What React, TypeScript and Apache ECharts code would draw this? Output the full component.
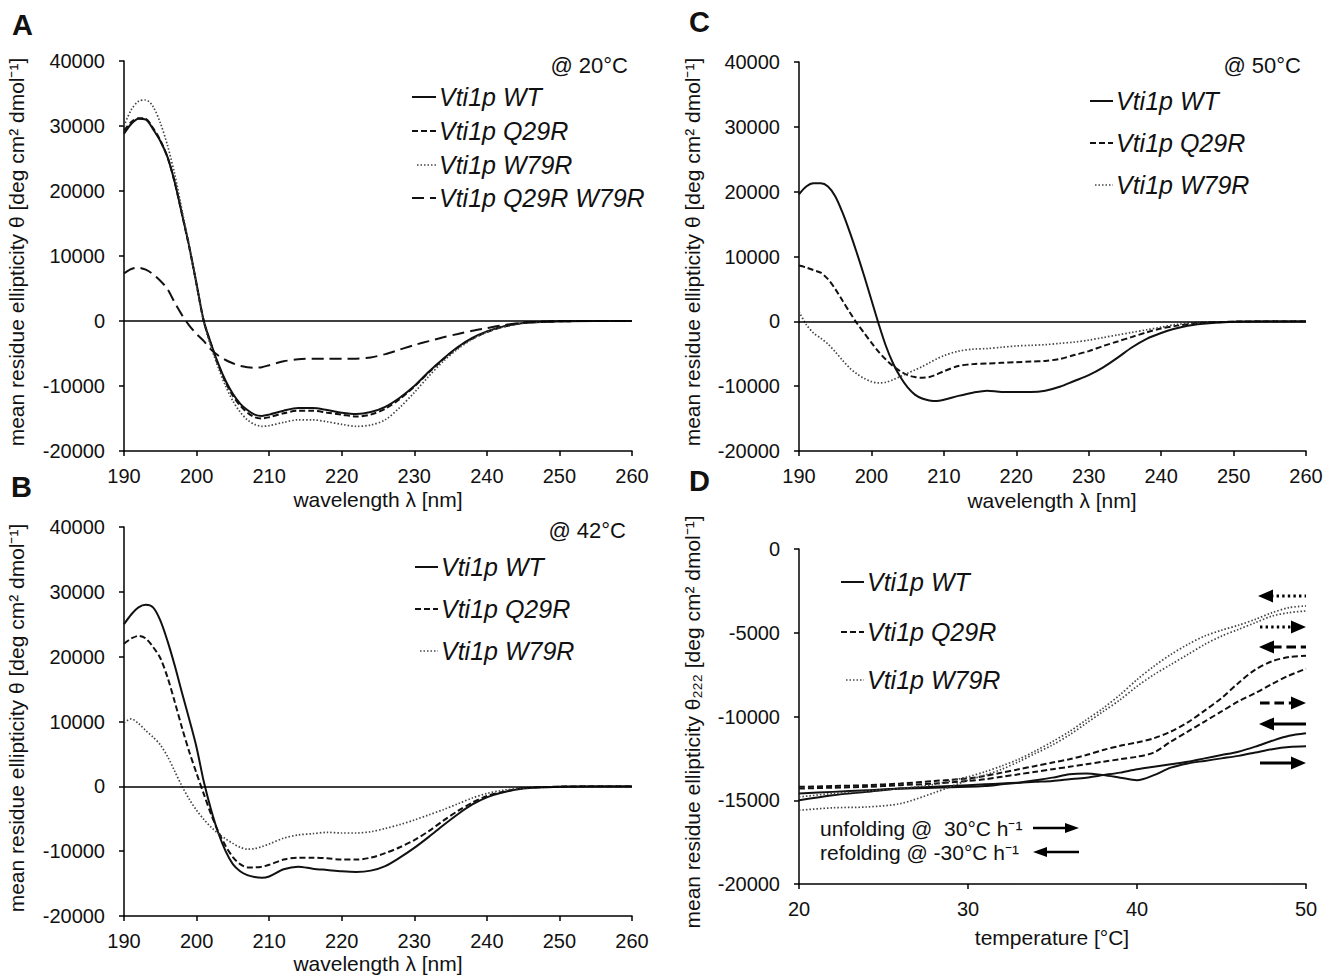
import React, { useEffect, useRef } from 'react';
import * as echarts from 'echarts';

const FONT = '"Liberation Sans", Arial, Helvetica, sans-serif';

// wavelength grid (nm) shared by panels A, B, C
const WL = [190,191,192,193,194,195,196,197,198,199,200,201,202,203,204,205,206,207,208,209,210,
  212,214,216,218,220,222,224,226,228,230,232,234,236,238,240,242,245,250,255,260];

// Panel A @ 20°C
const A_WT = [28800,30300,31100,31000,29500,27700,25200,21300,16400,11400,5700,0,-3500,-6600,-9200,-11200,-12700,-13700,-14400,-14600,-14400,
  -13800,-13400,-13400,-13700,-14100,-14300,-14000,-13200,-11800,-10000,-7800,-5800,-4000,-2600,-1600,-900,-300,-50,0,0];
const A_Q29R = [29300,30600,31200,31100,29700,27800,25200,21300,16400,11300,5600,-100,-3600,-6800,-9400,-11500,-13000,-14100,-14800,-15000,-14800,
  -14200,-13800,-13800,-14100,-14400,-14700,-14400,-13500,-12000,-10100,-7900,-5900,-4100,-2700,-1700,-950,-300,-50,0,0];
const A_W79R = [30000,32500,33800,34000,33000,30500,27000,22500,17000,11500,5600,-200,-4000,-7200,-10000,-12300,-14000,-15200,-15900,-16200,-16100,
  -15600,-15200,-15200,-15500,-15900,-16200,-16000,-15200,-13300,-11000,-8500,-6200,-4300,-2800,-1700,-1000,-350,-50,0,0];
const A_DM = [7300,8000,8200,7900,7200,6200,4900,2800,900,-700,-2000,-3100,-4400,-5300,-6000,-6500,-6900,-7100,-7200,-7100,-6800,
  -6200,-5900,-5800,-5800,-5800,-5800,-5600,-5100,-4400,-3700,-3100,-2500,-2000,-1500,-1100,-700,-250,-50,0,0];

// Panel B @ 42°C
const B_WT = [25000,26500,27600,28000,27600,25600,22400,18600,14400,10300,6000,700,-3600,-7200,-10000,-12000,-13100,-13700,-14000,-14100,-13900,
  -12800,-12400,-12700,-12900,-13100,-13200,-13000,-12300,-11000,-9500,-7800,-6000,-4300,-2800,-1700,-1000,-350,-50,0,0];
const B_Q29R = [22000,22800,23200,22800,21500,19800,16800,13000,9000,5300,2000,-1200,-4300,-7000,-9200,-10900,-12000,-12500,-12500,-12400,-12100,
  -11300,-11000,-11000,-11100,-11300,-11300,-11000,-10300,-9400,-8300,-6900,-5300,-3800,-2500,-1500,-900,-300,-50,0,0];
const B_W79R = [9800,10400,9700,8600,7600,6400,4600,2300,0,-2000,-3700,-5100,-6300,-7300,-8100,-8800,-9400,-9700,-9600,-9300,-8900,
  -8000,-7500,-7300,-7100,-7200,-7200,-7000,-6500,-5900,-5200,-4400,-3600,-2700,-1800,-1100,-650,-250,-50,0,0];

// Panel C @ 50°C
const C_WT = [19600,20800,21300,21300,20800,19300,16800,13800,10500,7000,3300,-400,-3800,-6500,-8600,-10200,-11300,-11900,-12200,-12300,-12100,
  -11500,-11000,-10700,-10900,-10900,-10900,-10700,-10100,-9200,-8300,-7100,-5600,-4000,-2700,-1800,-1100,-450,-50,0,0];
const C_Q29R = [8600,8300,7900,7500,6500,5000,3200,1400,-300,-1800,-3300,-4700,-5900,-6900,-7700,-8300,-8600,-8700,-8600,-8200,-7700,
  -6900,-6600,-6500,-6400,-6300,-6200,-6100,-5800,-5200,-4600,-3800,-3100,-2400,-1700,-1100,-700,-300,-50,0,0];
const C_W79R = [1500,-500,-1800,-2600,-3500,-4700,-6000,-7200,-8100,-8800,-9300,-9500,-9400,-9000,-8500,-8000,-7500,-7000,-6400,-5800,-5300,
  -4600,-4300,-4200,-4000,-3800,-3700,-3600,-3400,-3200,-2900,-2500,-2100,-1700,-1300,-900,-500,-200,-50,0,0];

// Panel D: thermal transitions at 222 nm
const TEMP = [20,22,24,26,28,30,31,32,33,34,35,36,37,38,39,40,41,42,43,44,45,46,47,48,49,50];
const D_WT_REF = [-15000,-14700,-14500,-14300,-14200,-14100,-14050,-14000,-13950,-13900,-13850,-13750,-13650,-13500,-13350,-13150,-13000,-12850,-12700,-12500,-12300,-12100,-11800,-11450,-11150,-11000];
const D_WT_UNF = [-14600,-14500,-14400,-14300,-14250,-14200,-14150,-14050,-13950,-13800,-13650,-13450,-13400,-13500,-13650,-13800,-13500,-13050,-12800,-12650,-12500,-12350,-12150,-11950,-11820,-11780];
const D_Q29R_REF = [-14200,-14150,-14100,-14000,-13850,-13700,-13550,-13350,-13150,-12950,-12750,-12550,-12300,-12000,-11750,-11550,-11300,-10900,-10350,-9650,-8900,-8000,-7200,-6700,-6450,-6380];
const D_Q29R_UNF = [-14300,-14250,-14200,-14100,-14000,-13850,-13750,-13600,-13450,-13300,-13150,-13000,-12850,-12700,-12550,-12400,-12150,-11500,-10900,-10300,-9700,-9100,-8600,-8050,-7550,-7150];
const D_W79R_REF = [-14800,-14600,-14450,-14300,-14050,-13600,-13300,-12950,-12550,-12050,-11500,-10900,-10200,-9500,-8700,-7800,-7000,-6300,-5700,-5200,-4850,-4550,-4200,-3800,-3500,-3400];
const D_W79R_UNF = [-15600,-15450,-15400,-15200,-14550,-13800,-13500,-13150,-12700,-12200,-11700,-11100,-10400,-9700,-9000,-8200,-7500,-6900,-6300,-5700,-5200,-4800,-4400,-4000,-3800,-3700];

const NAMES = ['Vti1p WT', 'Vti1p Q29R', 'Vti1p W79R', 'Vti1p Q29R W79R'];
const TEMPS_LABEL = ['@ 20°C', '@ 42°C', '@ 50°C'];

const ST: Record<string, any> = {
  WT: { color: '#111', width: 2, type: 'solid' },
  Q29R: { color: '#111', width: 2, type: [6, 3] },
  W79R: { color: '#444', width: 1.7, type: [1.5, 2] },
  DM: { color: '#111', width: 2, type: [12, 6] },
};
const DASH: Record<string, any> = { WT: null, Q29R: [6, 3], W79R: [1.5, 2], DM: [12, 6] };

const GRIDS = [
  { left: 124, top: 61, width: 508, height: 390 },
  { left: 124, top: 527, width: 508, height: 389 },
  { left: 799, top: 62, width: 507, height: 389 },
  { left: 799, top: 549, width: 507, height: 335 },
];

const zeroLine = {
  silent: true,
  symbol: ['none', 'none'],
  label: { show: false },
  lineStyle: { color: '#000', width: 1.5, type: 'solid' },
  data: [{ yAxis: 0 }],
};

function mk(name: string, xs: number[], ys: number[], ax: number, key: string, zero = false) {
  const s: any = {
    type: 'line',
    name,
    xAxisIndex: ax,
    yAxisIndex: ax,
    data: xs.map((x, i) => [x, ys[i]]),
    showSymbol: false,
    symbol: 'none',
    smooth: 0.3,
    lineStyle: ST[key],
    z: 3,
  };
  if (zero) s.markLine = zeroLine;
  return s;
}

function xAx(gi: number, min: number, max: number, interval: number) {
  return {
    type: 'value', gridIndex: gi, min, max, interval,
    axisLine: { onZero: false, lineStyle: { color: '#000', width: 1.5 } },
    axisTick: { length: 5, lineStyle: { color: '#000', width: 1.5 } },
    axisLabel: { color: '#111', fontSize: 20, fontFamily: FONT, margin: 15, formatter: (v: number) => String(v) },
    splitLine: { show: false },
  };
}
function yAx(gi: number, min: number, max: number, interval: number) {
  return {
    type: 'value', gridIndex: gi, min, max, interval,
    axisLine: { show: true, onZero: false, lineStyle: { color: '#000', width: 1.5 } },
    axisTick: { show: true, length: 5, lineStyle: { color: '#000', width: 1.5 } },
    axisLabel: { color: '#111', fontSize: 20, fontFamily: FONT, margin: 19, formatter: (v: number) => String(v) },
    splitLine: { show: false },
  };
}

function txt(text: string, x: number, y: number, font: string, align = 'left', rotation = 0): any {
  return {
    type: 'text', x, y, rotation,
    style: { text, font, fill: '#111', textAlign: align, textVerticalAlign: 'middle' },
    z: 10,
  };
}
function seg(x1: number, x2: number, y: number, key: string, lw?: number): any {
  const st = ST[key];
  return {
    type: 'line',
    shape: { x1, y1: y, x2, y2: y },
    style: { stroke: st.color, lineWidth: lw ?? st.width, lineDash: DASH[key] },
    z: 10,
  };
}
function arrow(x1: number, x2: number, y: number, dir: 'l' | 'r', key: string, lw: number, head = 15, hw = 6.5): any[] {
  const els: any[] = [];
  const dash = DASH[key] ? DASH[key].map((d: number) => d * 1.6) : null;
  if (dir === 'r') {
    els.push({ type: 'line', shape: { x1, y1: y, x2: x2 - head + 2, y2: y }, style: { stroke: '#000', lineWidth: lw, lineDash: dash }, z: 10 });
    els.push({ type: 'polygon', shape: { points: [[x2 - head, y - hw], [x2, y], [x2 - head, y + hw]] }, style: { fill: '#000' }, z: 10 });
  } else {
    els.push({ type: 'line', shape: { x1: x1 + head - 2, y1: y, x2, y2: y }, style: { stroke: '#000', lineWidth: lw, lineDash: dash }, z: 10 });
    els.push({ type: 'polygon', shape: { points: [[x1 + head, y - hw], [x1, y], [x1 + head, y + hw]] }, style: { fill: '#000' }, z: 10 });
  }
  return els;
}

export default function App() {
  const ref = useRef<HTMLDivElement>(null);
  useEffect(() => {
    document.body.style.margin = '0';
    if (!ref.current) return;
    const chart = echarts.init(ref.current, undefined, { renderer: 'svg' });

    const series = [
      mk(NAMES[0], WL, A_WT, 0, 'WT', true),
      mk(NAMES[1], WL, A_Q29R, 0, 'Q29R'),
      mk(NAMES[2], WL, A_W79R, 0, 'W79R'),
      mk(NAMES[3], WL, A_DM, 0, 'DM'),
      mk(NAMES[0], WL, B_WT, 1, 'WT', true),
      mk(NAMES[1], WL, B_Q29R, 1, 'Q29R'),
      mk(NAMES[2], WL, B_W79R, 1, 'W79R'),
      mk(NAMES[0], WL, C_WT, 2, 'WT', true),
      mk(NAMES[1], WL, C_Q29R, 2, 'Q29R'),
      mk(NAMES[2], WL, C_W79R, 2, 'W79R'),
      mk(NAMES[0] + ' refolding', TEMP, D_WT_REF, 3, 'WT'),
      mk(NAMES[0] + ' unfolding', TEMP, D_WT_UNF, 3, 'WT'),
      mk(NAMES[1] + ' refolding', TEMP, D_Q29R_REF, 3, 'Q29R'),
      mk(NAMES[1] + ' unfolding', TEMP, D_Q29R_UNF, 3, 'Q29R'),
      mk(NAMES[2] + ' refolding', TEMP, D_W79R_REF, 3, 'W79R'),
      mk(NAMES[2] + ' unfolding', TEMP, D_W79R_UNF, 3, 'W79R'),
    ];

    const LF = 'italic 25px ' + FONT;
    const AF = '21px ' + FONT;
    const HF = '22px ' + FONT;
    const PF = 'bold 29px ' + FONT;
    const yTitle = 'mean residue ellipticity θ [deg cm² dmol⁻¹]';
    const yTitleD = 'mean residue ellipticity θ₂₂₂ [deg cm² dmol⁻¹]';

    const g: any[] = [
      // panel letters
      txt('A', 12, 25, PF), txt('B', 11, 487, PF), txt('C', 689, 22, PF), txt('D', 689, 481, PF),
      // axis titles
      txt(yTitle, 16, 252, AF, 'center', Math.PI / 2),
      txt(yTitle, 16, 718, AF, 'center', Math.PI / 2),
      txt(yTitle, 692, 252, AF, 'center', Math.PI / 2),
      txt(yTitleD, 692, 722, AF, 'center', Math.PI / 2),
      txt('wavelength λ [nm]', 378, 499, AF, 'center'),
      txt('wavelength λ [nm]', 378, 963, AF, 'center'),
      txt('wavelength λ [nm]', 1052, 500, AF, 'center'),
      txt('temperature [°C]', 1052, 937, AF, 'center'),
      // panel A legend
      txt(TEMPS_LABEL[0], 628, 65, HF, 'right'),
      seg(412, 436, 97, 'WT'), txt(NAMES[0], 439, 97, LF),
      seg(412, 436, 131, 'Q29R'), txt(NAMES[1], 439, 131, LF),
      seg(417, 436, 165, 'W79R'), txt(NAMES[2], 439, 165, LF),
      seg(412, 436, 198, 'DM'), txt(NAMES[3], 439, 198, LF),
      // panel B legend
      txt(TEMPS_LABEL[1], 626, 530, HF, 'right'),
      seg(415, 438, 567, 'WT'), txt(NAMES[0], 441, 567, LF),
      seg(415, 438, 609, 'Q29R'), txt(NAMES[1], 441, 609, LF),
      seg(420, 438, 651, 'W79R'), txt(NAMES[2], 441, 651, LF),
      // panel C legend
      txt(TEMPS_LABEL[2], 1301, 65, HF, 'right'),
      seg(1090, 1113, 101, 'WT'), txt(NAMES[0], 1116, 101, LF),
      seg(1090, 1113, 143, 'Q29R'), txt(NAMES[1], 1116, 143, LF),
      seg(1095, 1113, 185, 'W79R'), txt(NAMES[2], 1116, 185, LF),
      // panel D legend
      seg(841, 864, 582, 'WT'), txt(NAMES[0], 867, 582, LF),
      seg(841, 864, 632, 'Q29R'), txt(NAMES[1], 867, 632, LF),
      seg(846, 864, 680, 'W79R'), txt(NAMES[2], 867, 680, LF),
      txt('unfolding @  30°C h⁻¹', 820, 828, AF),
      txt('refolding @ -30°C h⁻¹', 820, 852, AF),
      ...arrow(1033, 1079, 828, 'r', 'WT', 2.5, 14, 5),
      ...arrow(1033, 1079, 852, 'l', 'WT', 2.5, 14, 5),
      // panel D direction arrows
      ...arrow(1258, 1306, 596, 'l', 'W79R', 3),
      ...arrow(1260, 1306, 627, 'r', 'W79R', 3),
      ...arrow(1259, 1306, 647, 'l', 'Q29R', 3),
      ...arrow(1260, 1306, 703, 'r', 'Q29R', 3),
      ...arrow(1259, 1306, 724, 'l', 'WT', 3),
      ...arrow(1260, 1306, 763, 'r', 'WT', 3),
    ];

    chart.setOption({
      animation: false,
      backgroundColor: '#fff',
      textStyle: { fontFamily: FONT },
      grid: GRIDS.map((gr) => ({ ...gr, containLabel: false })),
      xAxis: [xAx(0, 190, 260, 10), xAx(1, 190, 260, 10), xAx(2, 190, 260, 10), xAx(3, 20, 50, 10)],
      yAxis: [yAx(0, -20000, 40000, 10000), yAx(1, -20000, 40000, 10000), yAx(2, -20000, 40000, 10000), yAx(3, -20000, 0, 5000)],
      series,
      graphic: { elements: g },
    });
    return () => chart.dispose();
  }, []);
  return <div ref={ref} style={{ width: 1335, height: 976 }} />;
}
